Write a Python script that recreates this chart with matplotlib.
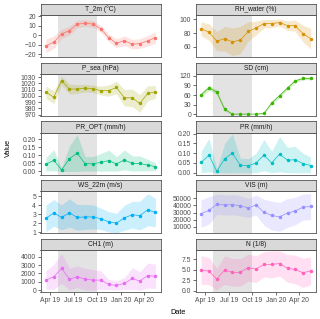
import numpy as np
import pandas as pd
import matplotlib
matplotlib.use("Agg")
import matplotlib.pyplot as plt
import matplotlib.dates as mdates

plt.rcParams['font.family'] = ['Liberation Sans', 'DejaVu Sans']

# monthly means (mid-month) Feb 2019 - Apr 2020
dates = pd.date_range("2019-02-15", periods=15, freq="MS") + pd.Timedelta(days=14)

t2m_mean = [-11, -7.2, 1.5, 5, 11.8, 12.8, 11.8, 6.8, -2.5, -8.3, -5.5, -9.3, -8.6, -5.8, -2.3]
t2m_sd = [7, 6.5, 5, 4.5, 4, 3.5, 3.5, 3.5, 4, 4.5, 5, 5, 5, 5.5, 6]
rh_mean = [86.5, 81.5, 68.5, 72, 67.5, 70, 82.5, 87.5, 94, 94, 95.5, 91, 91, 79.5, 72]
rh_sd = [10, 12, 14, 18, 20, 20, 14, 10, 6, 6, 5, 7, 8, 12, 15]
psea_mean = [1006, 998, 1024.5, 1011, 1011, 1012.5, 1011.5, 1008.5, 1008.5, 1013.5, 997, 997, 988, 1004, 1006.5]
psea_sd = [10, 10, 7, 8, 7, 6, 6, 7, 9, 10, 13, 14, 14, 12, 10]
sd_mean = [60, 83, 69, 15, 0, 0, 0, 0, 2, 35, 58, 82, 104, 112, 112]
sd_sd = [8, 8, 7, 6, 0, 0, 0, 0, 2, 6, 6, 6, 5, 4, 4]
propt_mean = [0.045, 0.07, 0.01, 0.08, 0.115, 0.048, 0.048, 0.057, 0.068, 0.047, 0.072, 0.05, 0.05, 0.04, 0.03]
propt_sd = [0.042, 0.065, 0.012, 0.08, 0.115, 0.045, 0.045, 0.055, 0.065, 0.045, 0.062, 0.047, 0.047, 0.036, 0.025]
pr_mean = [0.053, 0.09, 0.007, 0.072, 0.10, 0.038, 0.036, 0.05, 0.09, 0.05, 0.095, 0.064, 0.067, 0.047, 0.037]
pr_sd = [0.057, 0.085, 0.013, 0.078, 0.10, 0.037, 0.036, 0.05, 0.08, 0.06, 0.09, 0.066, 0.068, 0.053, 0.043]
ws_mean = [2.55, 3.15, 2.65, 3.15, 2.65, 2.7, 2.7, 2.5, 2.15, 2.0, 2.6, 2.95, 2.85, 3.5, 3.2]
ws_sd = [1.5, 1.5, 1.4, 1.6, 1.45, 1.4, 1.35, 1.2, 1.15, 1.1, 1.4, 1.5, 1.6, 1.8, 1.6]
vis_mean = [28500, 33000, 41500, 40500, 41000, 39500, 36500, 40500, 30500, 26000, 24000, 29500, 32000, 37500, 38500]
vis_sd = [19000, 19000, 14000, 14000, 14000, 14000, 13000, 14000, 18000, 20000, 20000, 20000, 19000, 18000, 18000]
ch1_mean = [1200, 1600, 2600, 1320, 1600, 1320, 1200, 1200, 680, 560, 800, 1400, 1080, 1750, 1650]
ch1_sd = [1100, 1500, 1800, 1300, 1300, 1300, 1250, 1100, 600, 550, 700, 1300, 1100, 1500, 1450]
n_mean = [4.95, 4.7, 2.8, 4.95, 4.4, 4.4, 5.55, 5.15, 6.3, 6.3, 6.5, 5.35, 5.1, 4.3, 4.75]
n_sd = [3.4, 3.2, 2.6, 3.4, 3.3, 3.3, 3.2, 3.2, 3.0, 3.2, 3.0, 3.3, 3.4, 3.5, 3.3]

labels = ["T_2m (°C)", "RH_water (%)", "P_sea (hPa)", "SD (cm)", "PR_OPT (mm/h)",
          "PR (mm/h)", "WS_22m (m/s)", "VIS (m)", "CH1 (m)", "N (1/8)"]
means = [t2m_mean, rh_mean, psea_mean, sd_mean, propt_mean, pr_mean, ws_mean, vis_mean, ch1_mean, n_mean]
sds = [t2m_sd, rh_sd, psea_sd, sd_sd, propt_sd, pr_sd, ws_sd, vis_sd, ch1_sd, n_sd]
nonneg = [False, False, False, True, True, True, True, True, True, True]
colors = ["#F8766D", "#D89000", "#A3A500", "#39B600", "#00BF7D",
          "#00BFC4", "#00B0F6", "#9590FF", "#E76BF3", "#FF62BC"]

yticks = [[-20, -10, 0, 10, 20], [60, 80, 100], [970, 980, 990, 1000, 1010, 1020, 1030],
          [0, 30, 60, 90, 120], [0, 0.05, 0.10, 0.15, 0.20], [0, 0.05, 0.10, 0.15, 0.20],
          [1, 2, 3, 4, 5], [10000, 20000, 30000, 40000, 50000], [0, 1000, 2000, 3000, 4000],
          [0, 2.5, 5.0, 7.5]]
yfmt = [None, None, None, None, "%.2f", "%.2f", None, None, None, "%.1f"]
ylims = [(-23, 21), (45, 106), (968, 1035), (-6, 126), (-0.02, 0.242), (-0.01, 0.205),
         (0.85, 5.57), (1100, 59400), (-240, 4800), (-0.3, 9.7)]

summer = (pd.Timestamp("2019-05-01"), pd.Timestamp("2019-10-01"))

W, H = 320, 319
fig = plt.figure(figsize=(W / 100, H / 100), dpi=100)

col_x = [40.5, 195.7]
pw = 120.3
sh = 11.3
ph = 42.0
xlim = (dates[0] - pd.Timedelta(days=21), dates[-1] + pd.Timedelta(days=21))
edge = "#555555"

for i in range(10):
    r, c = i // 2, i % 2
    top = 4 + r * 58.7
    x0 = col_x[c]
    ax = fig.add_axes([x0 / W, 1 - (top + sh + ph) / H, pw / W, ph / H])
    st = fig.add_axes([x0 / W, 1 - (top + sh) / H, pw / W, sh / H])
    st.set_facecolor("#d9d9d9")
    st.set_xticks([])
    st.set_yticks([])
    for s in st.spines.values():
        s.set_color(edge)
        s.set_linewidth(0.6)
    st.text(0.5, 0.5, labels[i], ha="center", va="center", fontsize=4.8,
            color="#1a1a1a", transform=st.transAxes)

    m = np.array(means[i], dtype=float)
    s = np.array(sds[i], dtype=float)
    lo = m - s
    hi = m + s
    if nonneg[i]:
        lo = np.clip(lo, 0, None)
    ax.axvspan(summer[0], summer[1], color="#bdbdbd", alpha=0.42, lw=0, zorder=0)
    ax.fill_between(dates, lo, hi, color=colors[i], alpha=0.2, lw=0, zorder=1)
    ax.plot(dates, m, color=colors[i], lw=0.5, marker="o", markersize=1.5, zorder=2)

    ax.set_xlim(xlim)
    ax.set_ylim(ylims[i])
    ax.set_yticks(yticks[i])
    if yfmt[i]:
        ax.set_yticklabels([yfmt[i] % v for v in yticks[i]])
    ax.tick_params(axis="both", labelsize=4.9, colors="#333333", labelcolor="#4d4d4d",
                   length=2, width=0.5, pad=1.2)
    for sp in ax.spines.values():
        sp.set_color(edge)
        sp.set_linewidth(0.6)
    ax.xaxis.set_major_locator(mdates.MonthLocator(bymonth=[1, 4, 7, 10]))
    ax.xaxis.set_major_formatter(mdates.DateFormatter("%b %y"))
    if r < 4:
        ax.tick_params(axis="x", bottom=False, labelbottom=False)

fig.text(8 / W, 1 - 148 / H, "Value", rotation=90, ha="center", va="center", fontsize=5.3)
fig.text(178 / W, 1 - 313 / H, "Date", ha="center", va="center", fontsize=5.3)

fig.savefig("out.png", dpi=100)
